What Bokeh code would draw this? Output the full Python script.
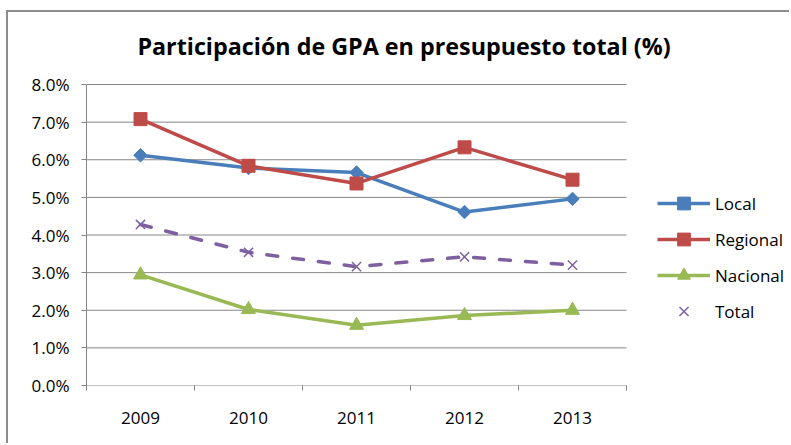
import math
from bokeh.plotting import figure
from bokeh.models import FixedTicker, PrintfTickFormatter, Legend, LegendItem, Range1d, Label
from bokeh.embed import file_html
from bokeh.resources import INLINE

title = "Participación de GPA en presupuesto total (%)"
years = ["2009", "2010", "2011", "2012", "2013"]
local = [6.12, 5.78, 5.66, 4.61, 4.96]
regional = [7.08, 5.84, 5.37, 6.33, 5.47]
nacional = [2.94, 2.02, 1.60, 1.86, 2.00]
total = [4.28, 3.54, 3.16, 3.42, 3.20]
y_ticks = [0, 1, 2, 3, 4, 5, 6, 7, 8]

xs = list(range(1, len(years) + 1))
FONT = "Open Sans"
GRID = "#868686"

# The plot area (540 x 301 px) sits inside a larger frame (705 x 373 px) so that
# the legend and title, drawn inside the frame, are not clipped.
AREA_W, FRAME_W = 540, 705
AREA_H, FRAME_H = 301, 373
x_start = 0.5
x_end = x_start + len(years) * FRAME_W / AREA_W
y_top = y_ticks[-1]
y_end = y_top * FRAME_H / AREA_H
px_per_y = AREA_H / y_top
px_per_x = AREA_W / len(years)

p = figure(width=783, height=433, output_backend="svg", toolbar_location=None,
           x_range=Range1d(x_start, x_end), y_range=Range1d(0, y_end),
           min_border_left=78, min_border_right=0, min_border_top=0, min_border_bottom=60)
p.styles = {"margin-left": "6px", "margin-top": "10px",
            "border-left": "2px solid #8c8c8c", "border-top": "2px solid #8c8c8c"}
p.outline_line_color = None
p.background_fill_color = "white"
p.border_fill_color = "white"

# title: centred over the chart, baseline ~39 px above plot-area top
p.add_layout(Label(x=x_start + 317.5 / px_per_x, y=y_top + 39 / px_per_y, text=title,
                   text_font=FONT, text_font_style="bold", text_font_size="23.3px",
                   text_align="center", text_baseline="alphabetic", text_color="black"))

# horizontal gridlines (incl. the category axis line at 0) over the plot area only
p.segment(x0=[x_start] * len(y_ticks), x1=[len(years) + 0.5] * len(y_ticks),
          y0=y_ticks, y1=y_ticks, line_color=GRID, line_width=1)

# axes
p.xaxis.ticker = FixedTicker(ticks=xs, minor_ticks=[x - 0.5 for x in xs] + [xs[-1] + 0.5])
p.xaxis.major_label_overrides = {x: y for x, y in zip(xs, years)}
p.xaxis.major_tick_line_color = None
p.xaxis.minor_tick_in = 0
p.xaxis.minor_tick_out = 5
p.xaxis.minor_tick_line_color = GRID
p.xaxis.axis_line_color = None
p.xaxis.major_label_standoff = 20
p.yaxis.ticker = FixedTicker(ticks=y_ticks)
p.yaxis.bounds = (0, y_top)
p.yaxis.formatter = PrintfTickFormatter(format="%.1f%%")
p.yaxis.major_tick_in = 0
p.yaxis.major_tick_out = 5
p.yaxis.major_tick_line_color = GRID
p.yaxis.minor_tick_line_color = None
p.yaxis.axis_line_color = GRID
p.yaxis.major_label_standoff = 12
for ax in (p.xaxis, p.yaxis):
    ax.major_label_text_font = FONT
    ax.major_label_text_font_size = "17px"
    ax.major_label_text_color = "black"

p.xgrid.grid_line_color = None
p.ygrid.grid_line_color = None

c_local, c_reg, c_nac, c_tot = "#4A7EBB", "#BE4B48", "#98B954", "#7E60A0"

l1 = p.line(xs, local, line_color=c_local, line_width=3.5)
m1 = p.scatter(xs, local, marker="square", angle=math.pi / 4, size=9.5, fill_color=c_local, line_color=c_local)
l2 = p.line(xs, regional, line_color=c_reg, line_width=3.5)
m2 = p.scatter(xs, regional, marker="square", size=13, fill_color=c_reg, line_color=c_reg)
l3 = p.line(xs, nacional, line_color=c_nac, line_width=3.5)
m3 = p.scatter(xs, nacional, marker="triangle", size=14, fill_color=c_nac, line_color=c_nac)
l4 = p.line(xs, total, line_color=c_tot, line_width=3.5, line_dash="11 15", line_cap="round")
m4 = p.scatter(xs, total, marker="x", size=13, line_color=c_tot, line_width=1.5)
# legend-only line (no data) so the legend shows "– × –" like the reference
l4_key = p.line([], [], line_color=c_tot, line_width=3.5, line_dash="10 30", line_cap="round")

legend = Legend(items=[
    LegendItem(label="Local", renderers=[l1, m1]),
    LegendItem(label="Regional", renderers=[l2, m2]),
    LegendItem(label="Nacional", renderers=[l3, m3]),
    LegendItem(label="Total", renderers=[l4_key, m4]),
], location=(571, 58))
legend.padding = 0
legend.margin = 0
legend.spacing = 4
legend.glyph_width = 53
legend.glyph_height = 32
legend.label_height = 20
legend.label_standoff = 5
legend.label_text_font = FONT
legend.label_text_font_size = "17px"
legend.label_text_color = "black"
legend.border_line_color = None
legend.background_fill_alpha = 0
p.add_layout(legend, "center")

open("out.html", "w").write(file_html(p, INLINE))
